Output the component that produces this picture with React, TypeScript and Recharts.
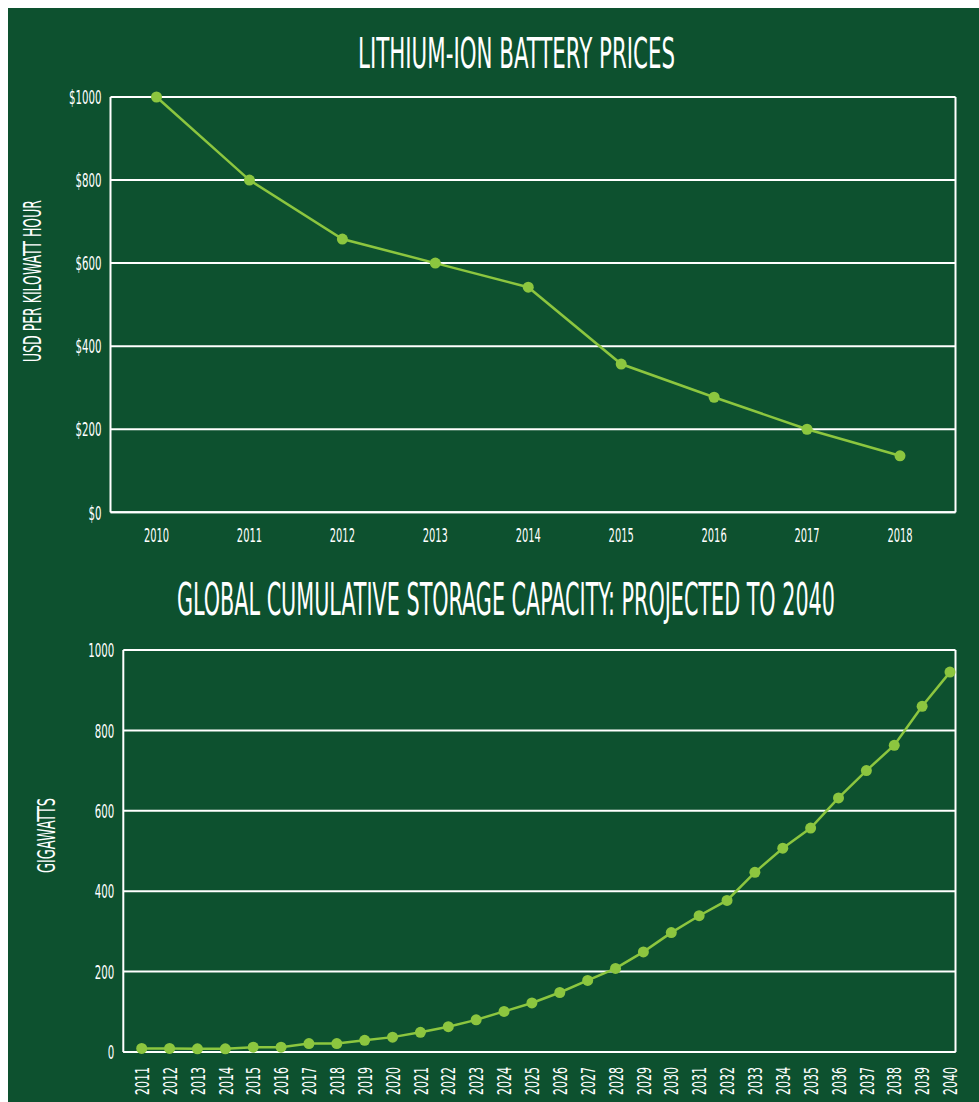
import React from 'react';
import { LineChart, Line, XAxis, YAxis, CartesianGrid } from 'recharts';

// ---------- data ----------
const priceYears = ['2010', '2011', '2012', '2013', '2014', '2015', '2016', '2017', '2018'];
const priceValues = [1000, 800, 658, 600, 542, 357, 277, 200, 136];
const priceTicks = [0, 200, 400, 600, 800, 1000];

const capacityYears = [
  '2011', '2012', '2013', '2014', '2015', '2016', '2017', '2018', '2019', '2020',
  '2021', '2022', '2023', '2024', '2025', '2026', '2027', '2028', '2029', '2030',
  '2031', '2032', '2033', '2034', '2035', '2036', '2037', '2038', '2039', '2040',
];
const capacityValues = [
  9, 9, 8, 8, 12, 12, 21, 21, 29, 37,
  49, 63, 80, 101, 122, 148, 178, 208, 249, 297,
  339, 377, 447, 507, 557, 632, 700, 763, 860, 945,
];
const capacityTicks = [0, 200, 400, 600, 800, 1000];

const titleTop = 'LITHIUM-ION BATTERY PRICES';
const titleBottom = 'GLOBAL CUMULATIVE STORAGE CAPACITY: PROJECTED TO 2040';
const labelTop = 'USD PER KILOWATT HOUR';
const labelBottom = 'GIGAWATTS';

const priceData = priceYears.map((year, i) => ({ year, value: priceValues[i] }));
const capacityData = capacityYears.map((year, i) => ({ year, value: capacityValues[i] }));

// ---------- style ----------
const BG = '#0d512f';
const LINE = '#8cc63f';
const WHITE = '#ffffff';
const FONT = "'Liberation Sans Narrow', 'DejaVu Sans Condensed', 'Liberation Sans', sans-serif";
const CHAR_W = 6.5;

function LeftTick(props: any) {
  const { x, y, payload, prefix } = props;
  const label = `${prefix || ''}${payload.value}`;
  return (
    <text
      x={x - 9}
      y={y}
      dy="0.36em"
      textAnchor="end"
      fill={WHITE}
      fontFamily={FONT}
      fontSize={20}
      textLength={label.length * CHAR_W}
      lengthAdjust="spacingAndGlyphs"
    >
      {label}
    </text>
  );
}

function BottomTick(props: any) {
  const { x, y, payload } = props;
  const label = String(payload.value);
  return (
    <text
      x={x}
      y={y + 30}
      textAnchor="middle"
      fill={WHITE}
      fontFamily={FONT}
      fontSize={20}
      textLength={label.length * 6.3}
      lengthAdjust="spacingAndGlyphs"
    >
      {label}
    </text>
  );
}

function RotatedTick(props: any) {
  const { x, y, payload } = props;
  const label = String(payload.value);
  return (
    <g transform={`translate(${x},${y})`}>
      <text
        transform="rotate(-90)"
        x={-15}
        y={0}
        dy="0.36em"
        textAnchor="end"
        fill={WHITE}
        fontFamily={FONT}
        fontSize={20}
        textLength={label.length * 7}
        lengthAdjust="spacingAndGlyphs"
      >
        {label}
      </text>
    </g>
  );
}

const axisLine = { stroke: WHITE, strokeWidth: 2 };

export default function App() {
  return (
    <div
      style={{
        position: 'absolute',
        left: 8,
        top: 8,
        width: 971,
        height: 1094,
        background: BG,
        overflow: 'hidden',
      }}
    >
      <div style={{ position: 'absolute', left: 0, top: 0 }}>
        <LineChart
          width={971}
          height={560}
          data={priceData}
          margin={{ top: 89, right: 22.5, bottom: 15.7, left: 42.5 }}
        >
          <CartesianGrid vertical={false} stroke={WHITE} strokeWidth={2} />
          <XAxis
            dataKey="year"
            scale="point"
            height={40}
            padding={{ left: 46, right: 55.5 }}
            axisLine={axisLine}
            tickLine={false}
            tickSize={0}
            tickMargin={0}
            tick={(p: any) => <BottomTick {...p} />}
            interval={0}
          />
          <YAxis
            width={60}
            domain={[0, 1000]}
            ticks={priceTicks}
            axisLine={axisLine}
            tickLine={false}
            tickSize={0}
            tickMargin={0}
            tick={(p: any) => <LeftTick {...p} prefix="$" />}
            interval={0}
          />
          <YAxis
            yAxisId="right"
            orientation="right"
            width={1}
            domain={[0, 1000]}
            ticks={priceTicks}
            axisLine={axisLine}
            tickLine={false}
            tick={false}
          />
          <Line
            type="linear"
            dataKey="value"
            stroke={LINE}
            strokeWidth={2.5}
            dot={{ r: 5.5, fill: LINE, stroke: 'none' }}
            activeDot={false}
            isAnimationActive={false}
          />
        </LineChart>
      </div>

      <div style={{ position: 'absolute', left: 0, top: 580 }}>
        <LineChart
          width={971}
          height={514}
          data={capacityData}
          margin={{ top: 62, right: 22.5, bottom: 0, left: 55.3 }}
        >
          <CartesianGrid vertical={false} stroke={WHITE} strokeWidth={2} />
          <XAxis
            dataKey="year"
            scale="point"
            height={50}
            padding={{ left: 18.4, right: 5.5 }}
            axisLine={axisLine}
            tickLine={false}
            tickSize={0}
            tickMargin={0}
            tick={(p: any) => <RotatedTick {...p} />}
            interval={0}
          />
          <YAxis
            width={60}
            domain={[0, 1000]}
            ticks={capacityTicks}
            axisLine={axisLine}
            tickLine={false}
            tickSize={0}
            tickMargin={0}
            tick={(p: any) => <LeftTick {...p} />}
            interval={0}
          />
          <YAxis
            yAxisId="right"
            orientation="right"
            width={1}
            domain={[0, 1000]}
            ticks={capacityTicks}
            axisLine={axisLine}
            tickLine={false}
            tick={false}
          />
          <Line
            type="linear"
            dataKey="value"
            stroke={LINE}
            strokeWidth={2.5}
            dot={{ r: 5.5, fill: LINE, stroke: 'none' }}
            activeDot={false}
            isAnimationActive={false}
          />
        </LineChart>
      </div>

      <svg
        width={971}
        height={1094}
        style={{ position: 'absolute', left: 0, top: 0, pointerEvents: 'none' }}
      >
        <text
          transform="translate(508.5,60.3) scale(1,1.6)"
          x={0}
          y={0}
          textAnchor="middle"
          fill={WHITE}
          fontFamily={FONT}
          fontSize={27}
          textLength={317}
          lengthAdjust="spacingAndGlyphs"
        >
          {titleTop}
        </text>
        <text
          transform="translate(498,607) scale(1,1.62)"
          x={0}
          y={0}
          textAnchor="middle"
          fill={WHITE}
          fontFamily={FONT}
          fontSize={27}
          textLength={658}
          lengthAdjust="spacingAndGlyphs"
        >
          {titleBottom}
        </text>
        <text
          transform="translate(24.5,273) rotate(-90)"
          x={0}
          y={0}
          dy="0.36em"
          textAnchor="middle"
          fill={WHITE}
          fontFamily={FONT}
          fontSize={24}
          textLength={162}
          lengthAdjust="spacingAndGlyphs"
        >
          {labelTop}
        </text>
        <text
          transform="translate(38,827.5) rotate(-90)"
          x={0}
          y={0}
          dy="0.36em"
          textAnchor="middle"
          fill={WHITE}
          fontFamily={FONT}
          fontSize={24}
          textLength={75}
          lengthAdjust="spacingAndGlyphs"
        >
          {labelBottom}
        </text>
      </svg>
    </div>
  );
}
